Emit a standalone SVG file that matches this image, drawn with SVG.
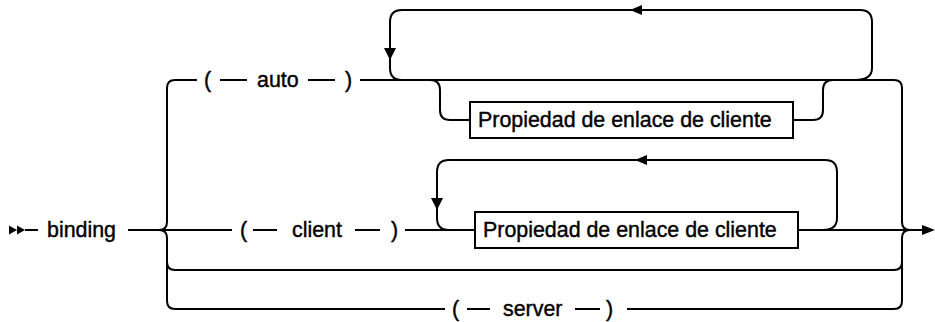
<svg xmlns="http://www.w3.org/2000/svg" width="935" height="322" viewBox="0 0 935 322">
<style>
.c{fill:none;stroke:#000;stroke-width:2}
.a{fill:#000;stroke:none}
text{font-family:"Liberation Sans",Arial,sans-serif;font-size:21.4px;fill:#000;stroke:#000;stroke-width:0.4}
.box{fill:#fff;stroke:#000;stroke-width:2}
</style>
<rect width="935" height="322" fill="#fff"/>
<g id="connectors">
<path class="a" d="M9,225.5 L17,230 L9,234.5 Z M17,225.5 L25,230 L17,234.5 Z"/>
<path class="c" d="M25,230 H38"/>
<path class="c" d="M128,230 H232"/>
<path class="c" d="M167,88 V222 Q167,230 159,230 M159,230 Q167,230 167,238 V301 Q167,309 175,309 H445"/>
<path class="c" d="M167,88 Q167,80 175,80 H197"/>
<path class="c" d="M220,80 H247 M308,80 H335"/>
<path class="c" d="M360,80 H894 Q902,80 902,88 V222 Q902,230 910,230 M910,230 Q902,230 902,238 V301 Q902,309 894,309 H627"/>
<path class="c" d="M167,262 Q167,270 175,270 H894 Q902,270 902,262"/>
<path class="c" d="M253,230 H277 M355,230 H380 M405,230 H475 M798,230 H922"/>
<path class="a" d="M922,225 L935,230 L922,235 Z"/>
<path class="c" d="M467,309 H490 M575,309 H600"/>
<path class="c" d="M855,80 Q872,80 872,68 V22 Q872,10 860,10 H402 Q390,10 390,22 V68 Q390,80 402,80"/>
<path class="a" d="M630,10 L642,5 L642,15 Z M384,48 L396,48 L390,60 Z"/>
<path class="c" d="M430,80 Q440,80 440,90 V110 Q440,120 450,120 H470 M793,120 H813 Q823,120 823,110 V90 Q823,80 833,80"/>
<path class="c" d="M823,230 Q837,230 837,218 V172 Q837,160 825,160 H449 Q437,160 437,172 V218 Q437,230 449,230"/>
<path class="a" d="M635,160 L647,155 L647,165 Z M431,198 L443,198 L437,210 Z"/>
</g>
<g id="binding"><text x="47" y="237">binding</text></g>
<g id="auto">
<text x="204" y="87">(</text><text x="257" y="87">auto</text><text x="345" y="87">)</text>
</g>
<g id="client">
<text x="240" y="237">(</text><text x="292" y="237">client</text><text x="391" y="237">)</text>
</g>
<g id="server">
<text x="452" y="316">(</text><text x="503" y="316">server</text><text x="606" y="316">)</text>
</g>
<g id="prop1">
<rect class="box" x="470" y="102" width="323" height="36"/>
<text x="478" y="127">Propiedad de enlace de cliente</text>
</g>
<g id="prop2">
<rect class="box" x="475" y="212" width="323" height="36"/>
<text x="483" y="237">Propiedad de enlace de cliente</text>
</g>
</svg>
